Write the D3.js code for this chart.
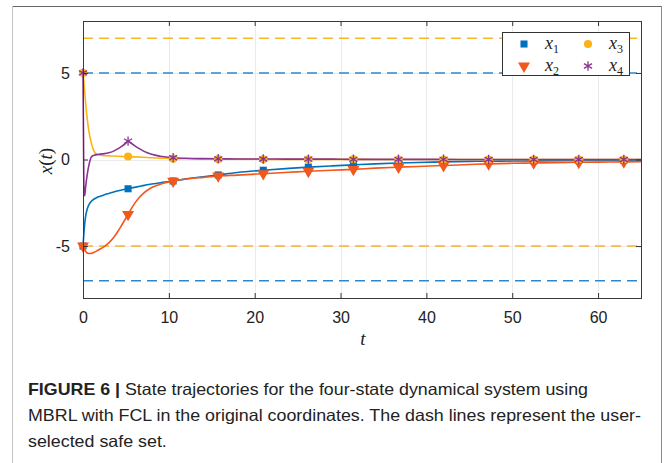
<!DOCTYPE html>
<html>
<head>
<meta charset="utf-8">
<script src="https://cdn.jsdelivr.net/npm/d3@7"></script>
<style>
body { margin: 0; background: #fff; }
svg { display: block; }
</style>
</head>
<body>
<div id="output"></div>
<script>
(function () {

"use strict";

// sample times (denser near t = 0 where the transient is)
var time = [0, 0.1, 0.2, 0.3, 0.5, 0.7, 1, 1.3, 1.6, 2, 2.5, 3, 3.5, 4, 4.5, 5, 5.25, 5.5, 6, 6.5, 7, 8, 9,
            10.5, 12, 14, 15.75, 18, 21, 24, 26.25, 29, 31.5, 34, 36.75, 39, 42, 45, 47.25, 50, 52.5, 55, 57.75, 60, 63, 65]

var x1 = [-5, -4.3, -3.7, -3.3, -2.85, -2.6, -2.4, -2.28, -2.2, -2.12, -2.03, -1.96, -1.89, -1.82, -1.76, -1.71, -1.69, -1.66, -1.61, -1.56, -1.51, -1.42, -1.34,
          -1.24, -1.12, -1.0, -0.89, -0.75, -0.62, -0.51, -0.44, -0.37, -0.31, -0.25, -0.2, -0.17, -0.14, -0.11, -0.1, -0.09, -0.08, -0.07, -0.06, -0.05, -0.05, -0.04]

var x2 = [-5, -5.12, -5.22, -5.3, -5.4, -5.43, -5.42, -5.36, -5.28, -5.17, -5.02, -4.82, -4.55, -4.2, -3.8, -3.38, -3.17, -2.95, -2.55, -2.22, -1.97, -1.62, -1.43,
          -1.25, -1.13, -1.03, -0.95, -0.9, -0.82, -0.74, -0.68, -0.62, -0.57, -0.5, -0.44, -0.4, -0.35, -0.29, -0.25, -0.22, -0.2, -0.18, -0.16, -0.15, -0.14, -0.13]

var x3 = [5, 4.5, 3.9, 3.3, 2.3, 1.6, 0.9, 0.45, 0.3, 0.25, 0.22, 0.21, 0.2, 0.19, 0.18, 0.17, 0.17, 0.16, 0.15, 0.14, 0.13, 0.1, 0.08,
          0.05, 0.04, 0.03, 0.02, 0.02, 0.01, 0.01, 0.01, 0.01, 0.01, 0, 0, 0, 0, 0, 0, 0, 0, 0, 0, 0, 0, 0]

var x4 = [5, -1.5, -2.1, -1.6, -0.85, -0.3, 0.17, 0.24, 0.28, 0.31, 0.34, 0.39, 0.47, 0.6, 0.76, 0.95, 1.06, 0.98, 0.8, 0.64, 0.5, 0.3, 0.19,
          0.1, 0.07, 0.05, 0.04, 0.03, 0.03, 0.02, 0.02, 0.02, 0.01, 0.01, 0.01, 0.01, 0.01, 0, 0, 0, 0, 0, 0, 0, 0, 0]

// times where markers sit
var markTimes = [0, 5.25, 10.5, 15.75, 21, 26.25, 31.5, 36.75, 42, 47.25, 52.5, 57.75, 63]

var xTicks = [0, 10, 20, 30, 40, 50, 60]
var yTicks = [-5, 0, 5]
var yTickLabels = ["-5", "0", "5"]

// user-selected safe set bounds
var blueBounds = [5, -7]
var orangeBounds = [7, -5]

var legendNames = ["1", "2", "3", "4"]

var captionLines = [
  "State trajectories for the four-state dynamical system using",
  "MBRL with FCL in the original coordinates. The dash lines represent the user-",
  "selected safe set."
]

var width = 667
  , height = 463
  , left = 83, right = 641, top = 21, bottom = 298
  , colors = ["#0072bd", "#f4571b", "#fdb316", "#8a3592"]
  , symbols = [d3.symbolSquare, d3.symbolTriangle, d3.symbolCircle, d3.symbolAsterisk || d3.symbolCross]
  , symSizes = [50, 62, 52, 62]
  , sans = "'Liberation Sans', Arial, sans-serif"
  , serif = "'Liberation Serif', 'Times New Roman', serif"

var svg = d3.select("#output").append("svg").attr("width", width).attr("height", height)

svg.append("rect").attr("width", width).attr("height", height).attr("fill", "#fff")

// figure frame
svg.append("line").attr("x1", 12).attr("x2", 661.5).attr("y1", 6.5).attr("y2", 6.5).style("stroke", "#666")
svg.append("line").attr("x1", 12.5).attr("x2", 12.5).attr("y1", 6).attr("y2", height).style("stroke", "#c4c4c4")
svg.append("line").attr("x1", 661.5).attr("x2", 661.5).attr("y1", 6).attr("y2", height).style("stroke", "#8a8a8a")

var x = d3.scaleLinear().domain([0, 65]).range([left, right])
var y = d3.scaleLinear().domain([-8, 8]).range([bottom, top])

// grid
svg.append("g").selectAll("line").data(xTicks.slice(1)).enter().append("line")
  .attr("x1", function (d) { return Math.round(x(d)) + 0.5 }).attr("x2", function (d) { return Math.round(x(d)) + 0.5 })
  .attr("y1", top).attr("y2", bottom)
  .style("stroke", "#ebebeb")
svg.append("g").selectAll("line").data(yTicks).enter().append("line")
  .attr("x1", left).attr("x2", right)
  .attr("y1", function (d) { return Math.round(y(d)) + 0.5 }).attr("y2", function (d) { return Math.round(y(d)) + 0.5 })
  .style("stroke", "#ebebeb")

// safe set dashed lines
function bounds(vals, color) {
  svg.append("g").selectAll("line").data(vals).enter().append("line")
    .attr("x1", left).attr("x2", right)
    .attr("y1", function (d) { return y(d) }).attr("y2", function (d) { return y(d) })
    .style("stroke", color).style("stroke-width", 1.6).style("stroke-dasharray", "10,6")
}
bounds(blueBounds, "#2e86cc")
bounds(orangeBounds, "#fbb42a")

// trajectories
var series = [x1, x2, x3, x4]
var line = d3.line()
  .x(function (d, i) { return x(time[i]) })
  .y(function (d) { return y(d) })
  .curve(d3.curveMonotoneX)

var markIdx = markTimes.map(function (t) { return time.indexOf(t) })

series.forEach(function (vals, s) {
  svg.append("path").datum(vals)
    .attr("d", line)
    .style("fill", "none").style("stroke", colors[s]).style("stroke-width", 1.6)
})

function marker(sel, s) {
  sel.attr("d", d3.symbol().type(symbols[s]).size(symSizes[s]))
  if (s == 3) sel.style("fill", "none").style("stroke", colors[s]).style("stroke-width", 1.3)
  else sel.style("fill", colors[s]).style("stroke", "none")
}

series.forEach(function (vals, s) {
  svg.append("g").selectAll("path").data(markIdx).enter().append("path")
    .attr("transform", function (i) { return "translate(" + x(time[i]) + "," + y(vals[i]) + ")" + (s == 1 ? " rotate(180)" : "") })
    .call(marker, s)
})

// axes, ticks inside on all sides
var gx = svg.append("g").attr("transform", "translate(0," + bottom + ")")
  .call(d3.axisBottom(x).tickValues(xTicks).tickSize(-5).tickPadding(14).tickFormat(d3.format("d")))
var gxTop = svg.append("g").attr("transform", "translate(0," + top + ")")
  .call(d3.axisTop(x).tickValues(xTicks).tickSize(-5).tickFormat(""))
var gy = svg.append("g").attr("transform", "translate(" + left + ",0)")
  .call(d3.axisLeft(y).tickValues(yTicks).tickSize(-5).tickPadding(13).tickFormat(function (d, i) { return yTickLabels[i] }))
var gyRight = svg.append("g").attr("transform", "translate(" + right + ",0)")
  .call(d3.axisRight(y).tickValues(yTicks).tickSize(-5).tickFormat(""))

;[gx, gxTop, gy, gyRight].forEach(function (g) {
  g.select(".domain").remove()
  g.selectAll("line").style("stroke", "#333")
  g.selectAll("text").style("font-family", sans).style("font-size", "16px").style("fill", "#222")
})

// axes box
svg.append("rect")
  .attr("x", left + 0.5).attr("y", top + 0.5)
  .attr("width", right - left).attr("height", bottom - top)
  .style("fill", "none").style("stroke", "#3a3a3a")

// axis labels
svg.append("text").attr("x", 363).attr("y", 345).attr("text-anchor", "middle")
  .style("font-family", serif).style("font-style", "italic").style("font-size", "19px").style("fill", "#222")
  .text("t")

var yl = svg.append("text").attr("transform", "translate(52,161) rotate(-90)").attr("text-anchor", "middle")
  .style("font-family", serif).style("font-size", "19px").style("fill", "#222")
yl.append("tspan").style("font-style", "italic").text("x")
yl.append("tspan").text("(")
yl.append("tspan").style("font-style", "italic").text("t")
yl.append("tspan").text(")")

// legend
var lg = svg.append("g")
lg.append("rect").attr("x", 502.5).attr("y", 32.5).attr("width", 127).attr("height", 43)
  .style("fill", "#fff").style("stroke", "#333")

var legendPos = [[524, 44], [524, 66], [588, 44], [588, 66]]
legendNames.forEach(function (n, s) {
  lg.append("path").attr("transform", "translate(" + legendPos[s][0] + "," + legendPos[s][1] + ")" + (s == 1 ? " rotate(180)" : ""))
    .call(marker, s)
  var t = lg.append("text").attr("x", legendPos[s][0] + 21).attr("y", legendPos[s][1] + 5)
    .style("font-family", serif).style("font-size", "18px").style("fill", "#222")
  t.append("tspan").style("font-style", "italic").text("x")
  t.append("tspan").attr("dy", 4).style("font-size", "12px").text(n)
})

// caption: squeeze the lines to the width of the reference's condensed face
var capWidths = [560, 613]
  , squeeze = 1
captionLines.forEach(function (txt, i) {
  var c = svg.append("text").attr("x", 28).attr("y", 395 + i * 26)
    .style("font-family", sans).style("font-size", "16.5px").style("fill", "#222")
  if (i == 0) c.append("tspan").style("font-weight", "bold").text("FIGURE 6 | ")
  c.append("tspan").text(txt)
  var natural = c.node().getComputedTextLength()
  if (i < capWidths.length) squeeze = capWidths[i] / natural
  c.attr("textLength", i < capWidths.length ? capWidths[i] : natural * squeeze).attr("lengthAdjust", "spacingAndGlyphs")
})

}())
</script>
</body>
</html>
